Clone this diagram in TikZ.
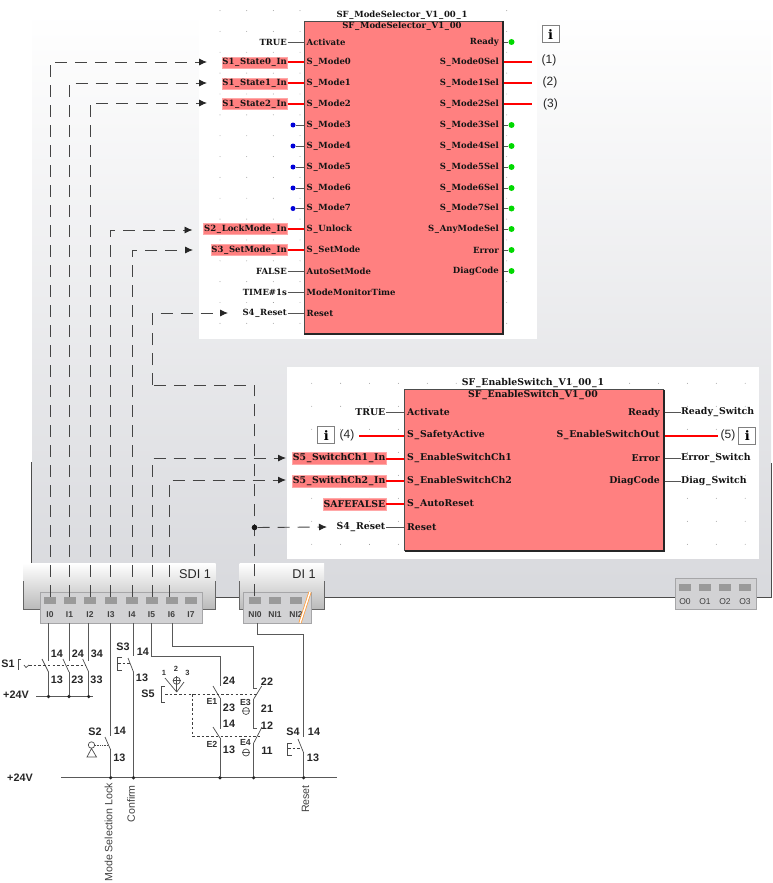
\documentclass[tikz,border=0pt]{standalone}
\usepackage{fontspec}
\setmainfont{Liberation Sans}
\newfontfamily\fbfont{DejaVu Serif}
\usetikzlibrary{arrows.meta,calc}
\let\plainus\_
\renewcommand{\_}{\kern0.7pt\plainus\kern0.7pt}
\newcommand{\fbsz}{8.5}
\newcommand{\fbht}{11pt}
\definecolor{fbred}{HTML}{FF8080}
\definecolor{varedge}{HTML}{FFA8A8}
\definecolor{wiregray}{HTML}{555555}
\definecolor{dashgray}{HTML}{444444}
\definecolor{panelbot}{HTML}{D8D9DD}
\definecolor{termfill}{HTML}{D2D2D4}
\definecolor{termedge}{HTML}{A6A6A8}
\definecolor{ledfill}{HTML}{9A9A9A}
\tikzset{
  fbtext/.style={font=\fbfont\bfseries\fontsize{\fbsz}{9}\selectfont,inner sep=0pt,text=black!92},
  pinl/.style={fbtext,anchor=west},
  pinr/.style={fbtext,anchor=east},
  varplain/.style={fbtext,anchor=east,inner xsep=0.5pt},
  varsafe/.style={varplain,fill=fbred,draw=varedge,line width=0.4pt,minimum height=\fbht,inner ysep=0pt},
  fbtitle/.style={fbtext},
  pinwire/.style={draw=wiregray,line width=0.9pt},
  redwire/.style={draw=red,line width=2pt},
  bdot/.style={circle,fill=blue!85!black,inner sep=0pt,minimum size=5pt},
  gdot/.style={circle,fill=green!85!black,inner sep=0pt,minimum size=6pt},
  griddot/.style={fill=black!45},
  dashwire/.style={draw=dashgray,line width=0.9pt,dash pattern=on 12pt off 8pt},
  dasharrow/.style={dashwire,-{Latex[length=8pt,width=7pt,color=black!85,fill=black!85]}},
  infoicon/.style={draw=black!50,fill=white,line width=0.9pt,minimum size=17pt,inner sep=0pt,font=\fbfont\bfseries\fontsize{13}{13}\selectfont},
  paren/.style={inner sep=0pt,font=\fontsize{12}{12}\selectfont,text=black!85},
  led/.style={fill=ledfill,draw=none,minimum width=12pt,minimum height=7pt,inner sep=0pt},
  termlabel/.style={inner sep=0pt,font=\bfseries\fontsize{8.5}{9}\selectfont,text=black!75},
  modname/.style={inner sep=0pt,font=\fontsize{12.7}{13}\selectfont,text=black!85},
  cl/.style={inner sep=0pt,font=\bfseries\fontsize{10.8}{11}\selectfont,text=black!85},
  el/.style={inner sep=0pt,font=\bfseries\fontsize{8.8}{9}\selectfont,text=black!80},
  nl/.style={inner sep=0pt,font=\bfseries\fontsize{7.5}{8}\selectfont,text=black!80},
  vl/.style={inner sep=0pt,rotate=90,anchor=east,font=\fontsize{10.6}{11}\selectfont,text=black!75},
  cw/.style={draw=black!65,line width=1pt},
  blade/.style={draw=black!70,line width=0.7pt},
  cdash/.style={draw=black!75,line width=0.7pt,dash pattern=on 2.5pt off 2.2pt},
  junc/.style={circle,fill=black!85,inner sep=0pt,minimum size=3.6pt},
  bigjunc/.style={circle,fill=black!90,inner sep=0pt,minimum size=5.6pt},
}
\begin{document}
\begin{tikzpicture}[x=1pt,y=-1pt]
\useasboundingbox (0,0) rectangle (772,883);
% panels
\shade[top color=white,bottom color=panelbot] (32,12) rectangle (771,597);
\fill[white] (199,0) rectangle (537,339);
\fill[white] (287,367) rectangle (758.5,559);
\draw[black!70,line width=0.9pt] (31.5,462) -- (31.5,563);
\draw[black!70,line width=0.9pt] (215.5,597) -- (239.5,597) (324,597) -- (771,597) -- (771,463);
% grid dots
\foreach \x in {220,246.7,273.3,300,506.7}\foreach \j in {0,...,15}
  \fill[griddot] (\x,10.6+20.85*\j) circle (0.45pt);
\foreach \i in {0,...,15}\foreach \j in {0,...,7}
  \fill[griddot] (311.7+28.9*\i,383.3+23*\j) circle (0.45pt);
% I/O modules
\shade[top color=white,bottom color=black!27] (23.5,563) rectangle (215.5,609);
\draw[black!60,line width=0.9pt] (23.5,581) -- (23.5,609) -- (215.5,609) -- (215.5,581);
\node[modname] (sdiname) at (195,574.5) {SDI 1};
\shade[top color=white,bottom color=black!27] (239.5,563) rectangle (324,609);
\draw[black!60,line width=0.9pt] (239.5,581) -- (239.5,609) -- (324,609) -- (324,581);
\node[modname] (diname) at (304,574.5) {DI 1};
\draw[fill=termfill,draw=termedge,line width=1pt] (40.5,592.5) rectangle (202.5,623);
\draw[fill=termfill,draw=termedge,line width=1pt] (243,592.5) rectangle (311.5,623);
\draw[fill=termfill,draw=termedge,line width=1pt] (675.7,578) rectangle (756,609);
\foreach \n/\x/\t in {0/50/I0,1/69.5/I1,2/90/I2,3/111/I3,4/132/I4,5/151.5/I5,6/171.5/I6,7/191/I7}{
  \node[led] (i\n) at (\x,600.5) {};
  \node[termlabel] (il\n) at (\x,615) {\t};
}
\foreach \n/\x/\t in {0/255/NI0,1/275/NI1,2/296/NI2}{
  \node[led] (ni\n) at (\x,600) {};
  \node[termlabel] (nl\n) at (\x,615) {\t};
}
\foreach \n/\x/\t in {0/685/O0,1/705/O1,2/725/O2,3/745/O3}{
  \node[led] (o\n) at (\x,587) {};
  \node[termlabel,font=\fontsize{8.5}{9}\selectfont] (ol\n) at (\x,602) {\t};
}
\coordinate (slashA) at (310,592);
\coordinate (slashB) at (300,623);
\draw[draw=orange!75!white,line width=3pt] (slashA) -- (slashB);
\draw[draw=white,line width=1.4pt] (slashA) -- (slashB);
% dashed connectors
\coordinate (a0) at (207,62);
\coordinate (a1) at (207,83);
\coordinate (a2) at (207,103);
\coordinate (a3) at (192.5,230);
\coordinate (a4) at (193,250);
\coordinate (a5) at (286,458);
\coordinate (a6) at (286,480);
\coordinate (ra) at (228,313);
\coordinate (rb) at (254.5,385);
\coordinate (rc) at (152.5,385);
\coordinate (rd) at (327,527);
\draw[dasharrow] (i0.north) |- (a0);
\draw[dasharrow] (i1.north) |- (a1);
\draw[dasharrow] (i2.north) |- (a2);
\draw[dasharrow] ([xshift=-1pt]i3.north) |- (a3);
\draw[dasharrow] (i4.north) |- (a4);
\draw[dasharrow] ([xshift=1pt]i5.north) |- (a5);
\draw[dasharrow] ([xshift=-2pt]i6.north) |- (a6);
\draw[dashwire] ([xshift=-0.5pt]ni0.north) -- (rb) -- (rc);
\draw[dasharrow] (rc) |- (ra);
\node[bigjunc] (rj) at (254.5,527.5) {};
\draw[dasharrow] (rj) -- (rd);
% FB1 connections
\foreach \n/\y/\t in {0/42/TRUE,11/271/FALSE,12/292/TIME\#1s,13/313/S4\_Reset}{
  \node[varplain] (v\n) at (287.5,\y) {\t};
  \coordinate (ib\n) at (304,\y);
  \draw[pinwire] (v\n.east) -- (ib\n);
}
\foreach \n/\y/\t in {1/62.5/S1\_State0\_In,2/83.3/S1\_State1\_In,3/104/S1\_State2\_In,9/229/S2\_LockMode\_In,10/250/S3\_SetMode\_In}{
  \node[varsafe] (v\n) at (287.5,\y) {\t};
  \coordinate (ib\n) at (304,\y);
  \draw[redwire] (v\n.east) -- (ib\n);
}
\foreach \n/\y in {4/125,5/146,6/167,7/188,8/208.5}{
  \node[bdot] (v\n) at (293,\y) {};
  \coordinate (ib\n) at (304,\y);
  \draw[pinwire] (v\n) -- (ib\n);
}
\foreach \n/\y in {0/42,4/125,5/146,6/167,7/188,8/208.5,9/229,10/250,11/271}{
  \node[gdot] (g\n) at (511.5,\y) {};
  \coordinate (ob\n) at (503,\y);
  \draw[pinwire] (ob\n) -- (g\n);
}
\foreach \n/\y/\t in {1/62.5/(1),2/83.3/(2),3/104/(3)}{
  \coordinate (ob\n) at (503,\y);
  \coordinate (oe\n) at (531.5,\y);
  \draw[redwire] (ob\n) -- (oe\n);
}
\node[paren] (p1) at (549,60) {(1)};
\node[paren] (p2) at (550,82) {(2)};
\node[paren] (p3) at (550.5,104) {(3)};
\node[infoicon] (info1) at (550.5,34.2) {i};
% FB1 block
\node[fbtitle] (t1) at (402,15.5) {SF\_ModeSelector\_V1\_00\_1};
\fill[fbred] (304,21) rectangle (503,334);
\draw[black!70,line width=0.9pt] (304,334) -- (304,21) -- (503,21);
\draw[black!85,line width=1.5pt] (503,21) -- (503,334) -- (304,334);
\node[fbtitle] (t1b) at (402,26.5) {SF\_ModeSelector\_V1\_00};
\foreach \n/\y/\t in {0/42/Activate,1/62.5/S\_Mode0,2/83.3/S\_Mode1,3/104/S\_Mode2,4/125/S\_Mode3,5/146/S\_Mode4,6/167/S\_Mode5,7/188/S\_Mode6,8/208.5/S\_Mode7,9/229/S\_Unlock,10/250/S\_SetMode,11/271/AutoSetMode,12/292/ModeMonitorTime,13/313/Reset}
  \node[pinl] (pi\n) at (306.5,\y) {\t};
\foreach \n/\y/\t in {0/42/Ready,1/62.5/S\_Mode0Sel,2/83.3/S\_Mode1Sel,3/104/S\_Mode2Sel,4/125/S\_Mode3Sel,5/146/S\_Mode4Sel,6/167/S\_Mode5Sel,7/188/S\_Mode6Sel,8/208.5/S\_Mode7Sel,9/229/S\_AnyModeSel,10/250/Error,11/271/DiagCode}
  \node[pinr] (po\n) at (499,\y) {\t};
% FB2 is printed about one tenth larger
\renewcommand{\fbsz}{9.35}
\renewcommand{\fbht}{12pt}
% FB2 connections
\foreach \n/\y/\t in {0/412.5/TRUE,5/527/S4\_Reset}{
  \node[varplain] (w\n) at (386,\y) {\t};
  \coordinate (jb\n) at (404.5,\y);
  \draw[pinwire] (w\n.east) -- (jb\n);
}
\foreach \n/\y/\t in {2/458.5/S5\_SwitchCh1\_In,3/481/S5\_SwitchCh2\_In,4/504/SAFEFALSE}{
  \node[varsafe] (w\n) at (386,\y) {\t};
  \coordinate (jb\n) at (404.5,\y);
  \draw[redwire] (w\n.east) -- (jb\n);
}
\node[paren] (p4) at (347,435) {(4)};
\coordinate (w1) at (359,435.5);
\coordinate (jb1) at (404.5,435.5);
\draw[redwire] (w1) -- (jb1);
\node[infoicon] (info2) at (326.3,435.2) {i};
\foreach \n/\y/\t in {0/412.5/Ready\_Switch,2/458.5/Error\_Switch,3/481/Diag\_Switch}{
  \node[pinl] (x\n) at (681,\y) {\t};
  \coordinate (kb\n) at (664,\y);
  \draw[pinwire] (kb\n) -- (x\n.west);
}
\coordinate (kb1) at (664,435.5);
\coordinate (x1) at (718,435.5);
\draw[redwire] (kb1) -- (x1);
\node[paren] (p5) at (728,435) {(5)};
\node[infoicon] (info3) at (747.3,435.5) {i};
% FB2 block
\node[fbtitle] (t2) at (533,383.5) {SF\_EnableSwitch\_V1\_00\_1};
\fill[fbred] (404.5,389.5) rectangle (664,551);
\draw[black!70,line width=0.9pt] (404.5,551) -- (404.5,389.5) -- (664,389.5);
\draw[black!85,line width=1.5pt] (664,389.5) -- (664,551) -- (404.5,551);
\node[fbtitle] (t2b) at (533,395.5) {SF\_EnableSwitch\_V1\_00};
\foreach \n/\y/\t in {0/412.5/Activate,1/435.5/S\_SafetyActive,2/458.5/S\_EnableSwitchCh1,3/481/S\_EnableSwitchCh2,4/504/S\_AutoReset,5/527/Reset}
  \node[pinl] (qi\n) at (407,\y) {\t};
\foreach \n/\y/\t in {0/412.5/Ready,1/435.5/S\_EnableSwitchOut,2/458.5/Error,3/481/DiagCode}
  \node[pinr] (qo\n) at (660,\y) {\t};
% circuit: rails
\coordinate (railAl) at (36,696.5);
\coordinate (railAr) at (93,696.5);
\coordinate (railBl) at (61,777.7);
\coordinate (railBr) at (337,777.7);
\draw[cw] (railAl) -- (railAr);
\draw[cw] (railBl) -- (railBr);
\node[cl] (v24a) at (16,695) {+24V};
\node[cl] (v24b) at (20,778) {+24V};
% S1
\foreach \n/\x/\bx in {a/48.5/42,b/69/63,c/88.7/82.7}{
  \coordinate (s1\n t) at (\x,623);
  \coordinate (s1\n u) at (\x,661);
  \coordinate (s1\n l) at (\x,672);
  \coordinate (s1\n h) at (\bx,659);
  \node[junc] (s1\n r) at (\x,696.5) {};
  \draw[cw] (s1\n t) -- (s1\n u);
  \draw[cw] (s1\n l) -- (s1\n r);
  \draw[blade] (s1\n h) -- (s1\n l);
}
\coordinate (s1da) at (29,665);
\coordinate (s1db) at (86,665);
\draw[cdash] (s1da) -- (s1db);
\draw[blade] (21,659) -- (18,659) -- (18,670);
\draw[blade] (24,665) -- (26,667.5) -- (29,665);
\node[cl] (S1) at (8,663.5) {S1};
\node[cl] (n14a) at (57,654) {14};
\node[cl] (n24a) at (78,654) {24};
\node[cl] (n34a) at (97,654) {34};
\node[cl] (n13a) at (57,680) {13};
\node[cl] (n23a) at (77.5,680) {23};
\node[cl] (n33a) at (96.5,680) {33};
% S2
\coordinate (s2t) at (110.7,623);
\coordinate (s2u) at (110.7,736);
\coordinate (s2l) at (110.7,750);
\coordinate (s2h) at (105,737);
\node[junc] (s2r) at (110.7,777.7) {};
\draw[cw] (s2t) -- (s2u);
\draw[cw] (s2l) -- (s2r);
\draw[blade] (s2h) -- (s2l);
\draw[blade,densely dotted] (95,745) -- (108.5,745);
\draw[blade] (91.5,745) circle (3.2pt);
\draw[blade] (91.5,748.5) -- (87,757) -- (96.5,757) -- cycle;
\node[cl] (S2) at (95,732) {S2};
\node[cl] (n14b) at (120,731) {14};
\node[cl] (n13b) at (119.5,757.5) {13};
% S3
\coordinate (s3t) at (133.5,623);
\coordinate (s3u) at (133.5,656);
\coordinate (s3l) at (133.5,672);
\coordinate (s3h) at (128,658);
\node[junc] (s3r) at (133.5,777.7) {};
\draw[cw] (s3t) -- (s3u);
\draw[cw] (s3l) -- (s3r);
\draw[blade] (s3h) -- (s3l);
\draw[blade] (122,657) -- (117,657) -- (117,670) -- (122,670);
\draw[cdash] (118,663.5) -- (131,663.5);
\node[cl] (S3) at (123,647) {S3};
\node[cl] (n14c) at (143,652) {14};
\node[cl] (n13c) at (142,678) {13};
% I5 / E1 E2
\coordinate (e1t) at (151,623);
\coordinate (e1k) at (151,656);
\coordinate (e1c) at (220,656);
\coordinate (e1u) at (220,686);
\coordinate (e1l) at (220,698);
\coordinate (e1h) at (213,686);
\coordinate (e2u) at (220,729);
\coordinate (e2l) at (220,738);
\coordinate (e2h) at (213,727);
\node[junc] (e2r) at (220,777.7) {};
\draw[cw] (e1t) -- (e1k) -- (e1c) -- (e1u);
\draw[cw] (e1l) -- (e2u);
\draw[cw] (e2l) -- (e2r);
\draw[blade] (e1h) -- (e1l);
\draw[blade] (e2h) -- (e2l);
\node[cl] (n24d) at (229,681) {24};
\node[cl] (n23d) at (229,708) {23};
\node[cl] (n14d) at (229,724) {14};
\node[cl] (n13d) at (229,750) {13};
\node[el] (E1) at (212,701) {E1};
\node[el] (E2) at (212,744.5) {E2};
% I6 / E3 E4
\coordinate (e3t) at (172,623);
\coordinate (e3k) at (172,646);
\coordinate (e3c) at (253.7,646);
\coordinate (e3u) at (253.7,688);
\coordinate (e3v) at (257,688);
\coordinate (e3l) at (253.7,699);
\coordinate (e3h) at (261.7,686);
\coordinate (e4u) at (253.7,728);
\coordinate (e4v) at (257,728);
\coordinate (e4l) at (253.7,743);
\coordinate (e4h) at (262,727);
\node[junc] (e4r) at (253.7,777.7) {};
\draw[cw] (e3t) -- (e3k) -- (e3c) -- (e3u) -- (e3v);
\draw[cw] (e3l) -- (e4u) -- (e4v);
\draw[cw] (e4l) -- (e4r);
\draw[blade] (e3h) -- (e3l);
\draw[blade] (e4h) -- (e4l);
\node[cl] (n22e) at (267,682) {22};
\node[cl] (n21e) at (267,709) {21};
\node[cl] (n12e) at (267,726) {12};
\node[cl] (n11e) at (267,751) {11};
\node[el] (E3) at (245.5,702) {E3};
\node[el] (E4) at (245.5,742.5) {E4};
\draw[blade] (246,711) circle (3.5pt) (242.5,711) -- (249.5,711);
\draw[blade] (246,752.5) circle (3.5pt) (242.5,752.5) -- (249.5,752.5);
% S5
\draw[blade] (165,686) -- (161,686) -- (161,702) -- (165,702);
\draw[cdash] (165,694) -- (257,694);
\draw[cdash] (192,694) -- (192,736) -- (260,736);
\coordinate (selp) at (176.7,692);
\draw[blade] (selp) -- (165,678);
\draw[blade] (selp) -- (176.7,676);
\draw[blade] (selp) -- (184,682);
\draw[blade] (176.7,680.7) circle (3.6pt);
\draw[blade] (172.7,680.7) -- (180.7,680.7);
\node[nl] (sel1) at (164,673) {1};
\node[nl] (sel2) at (176,669) {2};
\node[nl] (sel3) at (187.5,673) {3};
\node[cl] (S5) at (148,694) {S5};
% NI0 / S4
\coordinate (s4t) at (257.5,623);
\coordinate (s4k) at (257.5,634);
\coordinate (s4c) at (303.7,634);
\coordinate (s4u) at (303.7,737);
\coordinate (s4l) at (303.7,753);
\coordinate (s4h) at (298,739);
\node[junc] (s4r) at (303.7,777.7) {};
\draw[cw] (s4t) -- (s4k) -- (s4c) -- (s4u);
\draw[cw] (s4l) -- (s4r);
\draw[blade] (s4h) -- (s4l);
\draw[blade] (292,743) -- (287,743) -- (287,755) -- (292,755);
\draw[cdash] (288,748.5) -- (302,748.5);
\node[cl] (S4) at (293,732) {S4};
\node[cl] (n14f) at (314,732) {14};
\node[cl] (n13f) at (313,757.5) {13};
% rotated labels
\node[vl] (lockl) at (108.5,783) {Mode Selection Lock};
\node[vl] (confl) at (131,785) {Confirm};
\node[vl] (resl) at (305.5,785) {Reset};
\end{tikzpicture}
\end{document}
